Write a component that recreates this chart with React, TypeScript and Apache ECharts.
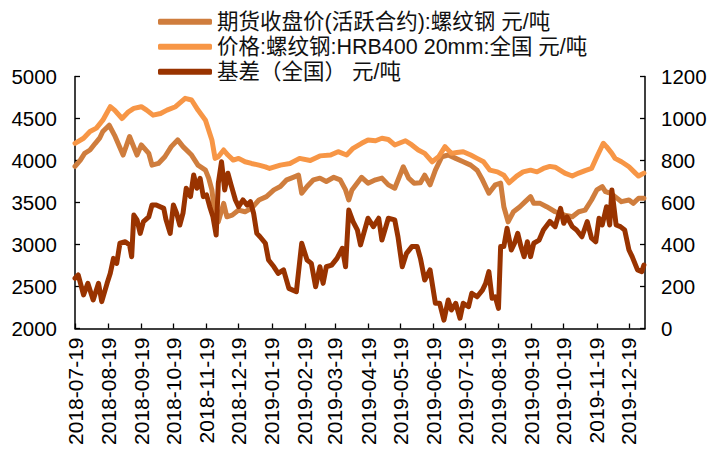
import React, { useEffect, useRef } from "react";
import * as echarts from "echarts";

const legendNames = [
  "期货收盘价(活跃合约):螺纹钢 元/吨",
  "价格:螺纹钢:HRB400 20mm:全国 元/吨",
  "基差（全国） 元/吨",
];

const tickDates = [
  "2018-07-19", "2018-08-19", "2018-09-19", "2018-10-19", "2018-11-19", "2018-12-19",
  "2019-01-19", "2019-02-19", "2019-03-19", "2019-04-19", "2019-05-19", "2019-06-19",
  "2019-07-19", "2019-08-19", "2019-09-19", "2019-10-19", "2019-11-19", "2019-12-19",
];
const axisEndDate = "2020-01-03";

const leftTicks = [2000, 2500, 3000, 3500, 4000, 4500, 5000];
const rightTicks = [0, 200, 400, 600, 800, 1000, 1200];

const futuresDates = [
  "2018-07-19", "2018-07-24", "2018-07-28", "2018-08-02", "2018-08-07", "2018-08-11", "2018-08-14",
  "2018-08-20", "2018-08-25", "2018-09-02", "2018-09-08", "2018-09-15", "2018-09-19", "2018-09-26",
  "2018-09-29", "2018-10-05", "2018-10-11", "2018-10-17", "2018-10-23", "2018-10-28", "2018-11-05",
  "2018-11-11", "2018-11-18", "2018-11-21", "2018-11-24", "2018-11-27", "2018-11-30", "2018-12-05",
  "2018-12-08", "2018-12-13", "2018-12-19", "2018-12-25", "2018-12-31", "2019-01-07", "2019-01-14",
  "2019-01-21", "2019-01-27", "2019-02-02", "2019-02-08", "2019-02-13", "2019-02-16", "2019-02-21",
  "2019-02-27", "2019-03-05", "2019-03-11", "2019-03-18", "2019-03-24", "2019-03-29", "2019-04-01",
  "2019-04-04", "2019-04-13", "2019-04-19", "2019-04-26", "2019-05-02", "2019-05-08", "2019-05-14",
  "2019-05-22", "2019-05-27", "2019-06-01", "2019-06-07", "2019-06-11", "2019-06-16", "2019-06-21",
  "2019-06-27", "2019-07-03", "2019-07-10", "2019-07-17", "2019-07-24", "2019-07-30", "2019-08-04",
  "2019-08-10", "2019-08-16", "2019-08-21", "2019-08-24", "2019-08-28", "2019-09-02", "2019-09-08",
  "2019-09-13", "2019-09-18", "2019-09-21", "2019-09-27", "2019-10-03", "2019-10-11", "2019-10-20",
  "2019-10-27", "2019-11-02", "2019-11-08", "2019-11-14", "2019-11-19", "2019-11-24", "2019-11-27",
  "2019-12-02", "2019-12-06", "2019-12-12", "2019-12-19", "2019-12-23", "2019-12-28", "2020-01-02",
];
const futuresValues = [
  3930, 4005, 4085, 4125, 4205, 4265, 4345,
  4420, 4300, 4065, 4285, 4065, 4185, 4085,
  3945, 3965, 4045, 4165, 4245, 4165, 4065,
  3945, 3885, 3790, 3650, 3330, 3270, 3490,
  3330, 3350, 3410, 3390, 3430, 3530, 3570,
  3650, 3690, 3770, 3800, 3825, 3610, 3690,
  3770, 3790, 3750, 3800, 3770, 3650, 3530,
  3650, 3800, 3730, 3770, 3790, 3710, 3670,
  3925, 3790, 3730, 3735, 3825, 3710, 3885,
  4045, 4065, 4025, 3985, 3945, 3885, 3770,
  3610, 3710, 3730, 3450, 3270, 3390, 3450,
  3510, 3570, 3490, 3490, 3450, 3390, 3350,
  3330, 3390, 3410, 3530, 3650, 3690, 3630,
  3610, 3570, 3510, 3530, 3490, 3550, 3550,
];

const spotDates = [
  "2018-07-19", "2018-07-27", "2018-08-02", "2018-08-08", "2018-08-14", "2018-08-21", "2018-08-25",
  "2018-09-01", "2018-09-07", "2018-09-12", "2018-09-19", "2018-09-24", "2018-09-30", "2018-10-07",
  "2018-10-13", "2018-10-21", "2018-10-30", "2018-11-05", "2018-11-11", "2018-11-18", "2018-11-24",
  "2018-11-27", "2018-11-30", "2018-12-05", "2018-12-09", "2018-12-14", "2018-12-19", "2018-12-25",
  "2018-12-31", "2019-01-07", "2019-01-13", "2019-01-17", "2019-01-27", "2019-02-05", "2019-02-14",
  "2019-02-24", "2019-03-05", "2019-03-15", "2019-03-22", "2019-03-30", "2019-04-05", "2019-04-13",
  "2019-04-19", "2019-04-26", "2019-05-02", "2019-05-08", "2019-05-14", "2019-05-24", "2019-05-30",
  "2019-06-05", "2019-06-11", "2019-06-18", "2019-06-24", "2019-06-30", "2019-07-06", "2019-07-11",
  "2019-07-17", "2019-07-24", "2019-07-30", "2019-08-05", "2019-08-11", "2019-08-18", "2019-08-24",
  "2019-08-29", "2019-09-05", "2019-09-11", "2019-09-18", "2019-09-24", "2019-09-30", "2019-10-06",
  "2019-10-11", "2019-10-20", "2019-10-27", "2019-11-02", "2019-11-08", "2019-11-14", "2019-11-19",
  "2019-11-25", "2019-11-28", "2019-12-03", "2019-12-06", "2019-12-12", "2019-12-19", "2019-12-25",
  "2019-12-28", "2020-01-02",
];
const spotValues = [
  4205, 4265, 4345, 4385, 4480, 4640, 4600,
  4500, 4580, 4620, 4640, 4600, 4540, 4560,
  4600, 4640, 4740, 4720, 4600, 4480, 4245,
  4025, 4045, 4125, 4065, 4005, 4025, 3985,
  3965, 3945, 3925, 3905, 3945, 3965, 4025,
  4000, 4055, 4065, 4105, 4065, 4145, 4205,
  4245, 4235, 4265, 4250, 4185, 4235, 4185,
  4125, 4085, 3985, 4045, 4165, 4085, 4095,
  4105, 4065, 4025, 3985, 3885, 3865, 3825,
  3735, 3815, 3865, 3885, 3865, 3905, 3930,
  3920, 3850, 3815, 3850, 3880, 3905, 4045,
  4205, 4165, 4085, 4025, 3985, 3925, 3850,
  3815, 3850,
];

const basisDates = [
  "2018-07-19", "2018-07-22", "2018-07-27", "2018-07-31", "2018-08-05", "2018-08-10", "2018-08-13",
  "2018-08-18", "2018-08-21", "2018-08-24", "2018-08-27", "2018-08-30", "2018-09-04", "2018-09-08",
  "2018-09-10", "2018-09-12", "2018-09-15", "2018-09-18", "2018-09-21", "2018-09-26", "2018-09-29",
  "2018-10-03", "2018-10-10", "2018-10-12", "2018-10-16", "2018-10-19", "2018-10-22", "2018-10-25",
  "2018-10-28", "2018-10-31", "2018-11-04", "2018-11-07", "2018-11-10", "2018-11-13", "2018-11-16",
  "2018-11-19", "2018-11-22", "2018-11-25", "2018-11-28", "2018-11-30", "2018-12-03", "2018-12-06",
  "2018-12-09", "2018-12-12", "2018-12-16", "2018-12-19", "2018-12-23", "2018-12-27", "2018-12-30",
  "2019-01-02", "2019-01-05", "2019-01-08", "2019-01-13", "2019-01-16", "2019-01-21", "2019-01-25",
  "2019-01-30", "2019-02-04", "2019-02-11", "2019-02-16", "2019-02-21", "2019-02-25", "2019-03-01",
  "2019-03-05", "2019-03-08", "2019-03-11", "2019-03-16", "2019-03-21", "2019-03-26", "2019-03-29",
  "2019-04-01", "2019-04-05", "2019-04-09", "2019-04-12", "2019-04-15", "2019-04-19", "2019-04-24",
  "2019-04-29", "2019-05-02", "2019-05-08", "2019-05-14", "2019-05-17", "2019-05-21", "2019-05-25",
  "2019-05-30", "2019-06-04", "2019-06-07", "2019-06-11", "2019-06-16", "2019-06-21", "2019-06-25",
  "2019-06-29", "2019-07-03", "2019-07-06", "2019-07-10", "2019-07-14", "2019-07-17", "2019-07-22",
  "2019-07-25", "2019-07-30", "2019-08-04", "2019-08-07", "2019-08-10", "2019-08-13", "2019-08-16",
  "2019-08-19", "2019-08-21", "2019-08-24", "2019-08-27", "2019-08-31", "2019-09-03", "2019-09-06",
  "2019-09-09", "2019-09-12", "2019-09-15", "2019-09-18", "2019-09-21", "2019-09-26", "2019-09-30",
  "2019-10-06", "2019-10-11", "2019-10-16", "2019-10-19", "2019-10-22", "2019-10-27", "2019-10-31",
  "2019-11-05", "2019-11-10", "2019-11-14", "2019-11-18", "2019-11-21", "2019-11-24", "2019-11-28",
  "2019-12-01", "2019-12-03", "2019-12-07", "2019-12-11", "2019-12-15", "2019-12-19", "2019-12-22",
  "2019-12-27", "2019-12-31", "2020-01-02",
];
const basisValues = [
  239, 255, 160, 215, 136, 215, 128,
  215, 263, 334, 310, 406, 413, 398,
  342, 540, 517, 453, 509, 532, 588,
  588, 572, 520, 453, 588, 549, 493,
  549, 668, 628, 731, 668, 715, 628,
  636, 580, 532, 445, 691, 794, 660,
  739, 683, 612, 580, 612, 588, 604,
  549, 453, 437, 406, 326, 294, 263,
  279, 191, 175, 406, 326, 310, 199,
  294, 215, 294, 302, 334, 382, 294,
  564, 509, 470, 398, 453, 525, 485,
  525, 421, 525, 517, 437, 294, 358,
  390, 390, 334, 231, 279, 120, 120,
  40, 136, 88, 120, 49, 120, 104,
  168, 151, 183, 215, 271, 144, 151,
  96, 390, 390, 477, 374, 406, 453,
  390, 342, 413, 342, 406, 421, 469,
  510, 485, 572, 501, 532, 485, 469,
  437, 509, 430, 413, 525, 493, 580,
  493, 660, 493, 485, 469, 374, 342,
  279, 271, 302,
];

const colors = ["#CF7D3D", "#F79646", "#993300"];
const FONT = '"Liberation Sans", Arial, "Noto Sans CJK SC", sans-serif';

function ts(s: string): number {
  const [y, m, d] = s.split("-").map(Number);
  return new Date(y, m - 1, d).getTime();
}
function fmt(v: number): string {
  const dt = new Date(v);
  const p = (n: number) => (n < 10 ? "0" + n : "" + n);
  return dt.getFullYear() + "-" + p(dt.getMonth() + 1) + "-" + p(dt.getDate());
}
function zip(d: string[], v: number[]) {
  return d.map((x, i) => [ts(x), v[i]]);
}

export default function App() {
  const ref = useRef<HTMLDivElement>(null);
  useEffect(() => {
    if (!ref.current) return;
    const chart = echarts.init(ref.current, null, { renderer: "svg" });
    const lineStyle = (c: string) => ({ color: c, width: 5, cap: "round" as const, join: "round" as const });
    const tickTs = tickDates.map(ts);
    chart.setOption({
      animation: false,
      color: colors,
      textStyle: { fontFamily: FONT },
      legend: {
        orient: "vertical",
        left: 153,
        top: 6,
        itemGap: 3.5,
        itemWidth: 54,
        itemHeight: 6,
        icon: "roundRect",
        textStyle: { fontSize: 21.5, color: "#111", fontFamily: FONT },
        data: legendNames,
      },
      grid: { left: 75, right: 68, top: 76.5, bottom: 126.5, containLabel: false },
      xAxis: {
        type: "value",
        min: tickTs[0],
        max: ts(axisEndDate),
        axisLine: { show: true, lineStyle: { color: "#000", width: 1.5 } },
        axisTick: { show: true, inside: true, length: 5, lineStyle: { color: "#000", width: 1.3 }, customValues: tickTs },
        axisLabel: {
          customValues: tickTs,
          rotate: 90,
          margin: 9,
          fontSize: 21,
          color: "#000",
          fontFamily: FONT,
          formatter: (val: number) => fmt(val),
        },
        splitLine: { show: false },
      },
      yAxis: [
        {
          type: "value",
          min: leftTicks[0],
          max: leftTicks[leftTicks.length - 1],
          interval: 500,
          position: "left",
          axisLine: { show: true, lineStyle: { color: "#000", width: 1.5 } },
          axisTick: { show: true, inside: true, length: 5, lineStyle: { color: "#000", width: 1.3 } },
          axisLabel: { fontSize: 20.5, color: "#000", margin: 18, fontFamily: FONT, formatter: (v: number) => String(v) },
          splitLine: { show: false },
        },
        {
          type: "value",
          min: rightTicks[0],
          max: rightTicks[rightTicks.length - 1],
          interval: 200,
          position: "right",
          axisLine: { show: true, lineStyle: { color: "#000", width: 1.5 } },
          axisTick: { show: true, inside: true, length: 5, lineStyle: { color: "#000", width: 1.3 } },
          axisLabel: { fontSize: 20.5, color: "#000", margin: 16, fontFamily: FONT, formatter: (v: number) => String(v) },
          splitLine: { show: false },
        },
      ],
      series: [
        {
          name: legendNames[0],
          type: "line",
          yAxisIndex: 0,
          showSymbol: false,
          symbol: "none",
          lineStyle: lineStyle(colors[0]),
          data: zip(futuresDates, futuresValues),
        },
        {
          name: legendNames[1],
          type: "line",
          yAxisIndex: 0,
          showSymbol: false,
          symbol: "none",
          lineStyle: lineStyle(colors[1]),
          data: zip(spotDates, spotValues),
        },
        {
          name: legendNames[2],
          type: "line",
          yAxisIndex: 1,
          showSymbol: false,
          symbol: "none",
          lineStyle: lineStyle(colors[2]),
          data: zip(basisDates, basisValues),
        },
      ],
    });
    return () => chart.dispose();
  }, []);
  return (
    <div
      ref={ref}
      style={{ position: "fixed", left: 0, top: 0, width: 713, height: 455, background: "#fff" }}
    />
  );
}
